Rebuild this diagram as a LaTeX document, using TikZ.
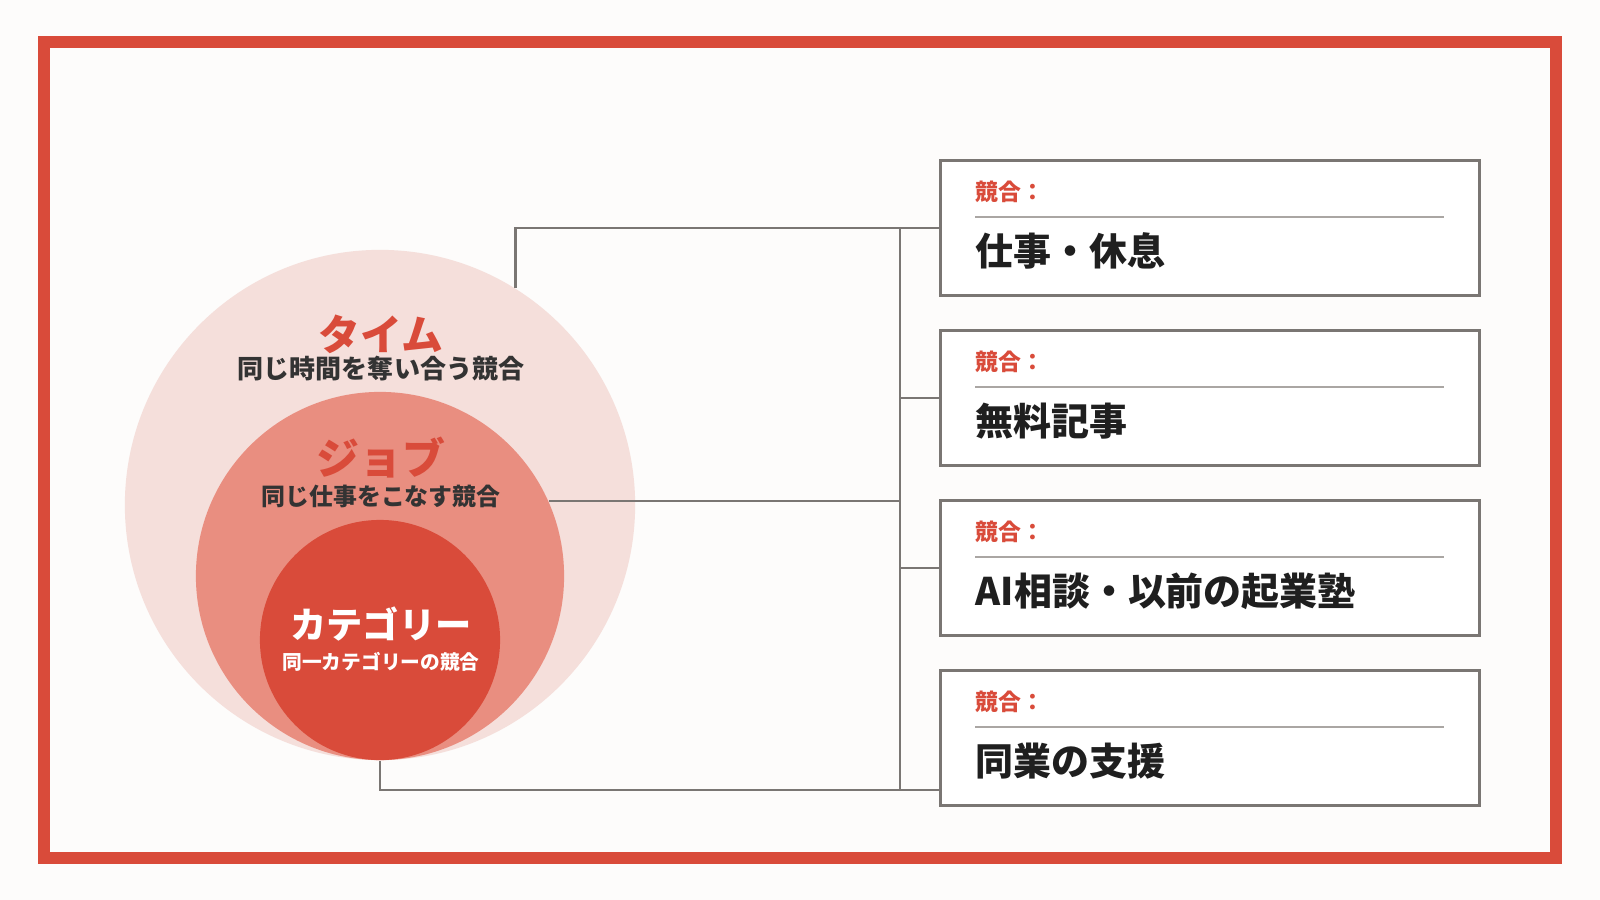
\documentclass[tikz,border=0pt]{standalone}
\usepackage{fontspec}
\setmainfont{Noto Sans CJK JP}[BoldFont={Noto Sans CJK JP Black}]
\definecolor{akared}{HTML}{D94B3A}
\definecolor{paper}{HTML}{FDFCFB}
\definecolor{tintA}{HTML}{F5DFDB}
\definecolor{tintB}{HTML}{E98E80}
\definecolor{rule}{HTML}{7A7673}
\definecolor{lightrule}{HTML}{AAA6A3}
\definecolor{ink}{HTML}{333333}
\newcommand{\fs}[1]{\fontsize{#1}{#1}\selectfont\bfseries}

\begin{document}
\begin{tikzpicture}[x=0.01cm, y=-0.01cm]
\tikzset{rond/.style={circle, inner sep=0pt},
  titre/.style={font=\fs{11.9pt}, text=akared, inner sep=0pt},
  soustitre/.style={font=\fs{7.2pt}, text=ink, inner sep=0pt},
  boite/.style={draw=rule, line width=0.85pt, fill=white, minimum width=5.39cm, minimum height=1.34cm, inner sep=0pt},
  etiquette/.style={font=\fs{6.5pt}, text=akared, anchor=west, inner sep=0pt},
  texte/.style={font=\fs{10.8pt}, text=black!88, anchor=west, inner sep=0pt},
  lien/.style={draw=rule, line width=0.7pt}}
\useasboundingbox (0,0) rectangle (1600,900);
\fill[paper] (0,0) rectangle (1600,900);
\draw[akared, line width=3.4pt] (44,42) rectangle (1556,858);
% les trois cercles
\node[rond, fill=tintA, minimum size=5.10cm] (time) at (380,505) {};
\node[rond, fill=tintB, minimum size=3.68cm] (job) at (380,576) {};
\node[rond, fill=akared, minimum size=2.40cm] (cat) at (380,640) {};
\node[titre] (timeT) at (381,334) {タイム};
\node[soustitre, font=\fs{7.4pt}] (timeS) at (381,369) {同じ時間を奪い合う競合};
\node[titre, font=\fs{12.2pt}] (jobT) at (381,458) {ジョブ};
\node[soustitre, font=\fs{6.8pt}] (jobS) at (381,496) {同じ仕事をこなす競合};
\node[titre, font=\fs{10.3pt}, text=white] (catT) at (381,624) {カテゴリー};
\node[soustitre, font=\fs{5.6pt}, text=white] (catS) at (381,662) {同一カテゴリーの競合};
% les boites
\foreach \y/\txt/\nom in {160/仕事・休息/box1, 330/無料記事/box2, 500/AI相談・以前の起業塾/box3, 670/同業の支援/box4}{
  \node[boite] (\nom) at (1210,\y+68) {};
  \node[etiquette] (\nom tag) at (975,\y+32) {競合：};
  \draw[lightrule, line width=0.55pt] (975,\y+57) -- (1444,\y+57);
  \node[texte] (\nom txt) at (975,\y+91) {\txt};
}
% les liens
\coordinate (spine) at (900,0);
\coordinate (bas) at (940,790);
\draw[lien] (time.58.5) |- (box1.west);
\draw[lien] (job.24) -- (job.24 -| spine);
\draw[lien] (cat.south) |- (bas);
\draw[lien] (spine |- box1.west) -- (spine |- bas);
\draw[lien] (spine |- box2.west) -- (box2.west);
\draw[lien] (spine |- box3.west) -- (box3.west);
\end{tikzpicture}
\end{document}
